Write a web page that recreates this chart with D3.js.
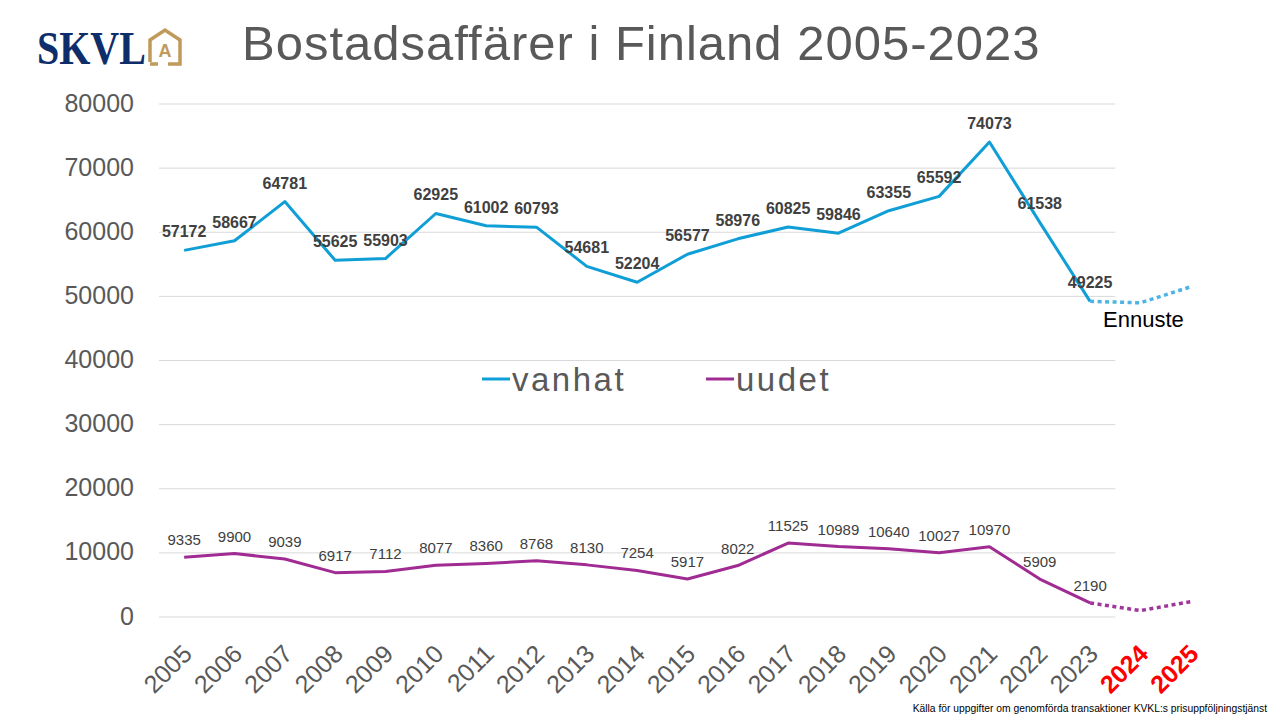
<!DOCTYPE html>
<html>
<head>
<meta charset="utf-8">
<script src="https://cdn.jsdelivr.net/npm/d3@7"></script>
<style>
  body { margin: 0; background: #fff; }
  svg { display: block; font-family: "Liberation Sans", Arial, sans-serif; }
</style>
</head>
<body>
<svg id="chart" width="1280" height="720"></svg>
<script>
const years = ["2005","2006","2007","2008","2009","2010","2011","2012","2013","2014","2015","2016","2017","2018","2019","2020","2021","2022","2023"];
const forecastYears = ["2023","2024","2025"];
const allYears = years.concat(["2024","2025"]);
const vanhat = [57172,58667,64781,55625,55903,62925,61002,60793,54681,52204,56577,58976,60825,59846,63355,65592,74073,61538,49225];
const uudet = [9335,9900,9039,6917,7112,8077,8360,8768,8130,7254,5917,8022,11525,10989,10640,10027,10970,5909,2190];
const vanhatForecast = [49225,49000,51500];
const uudetForecast = [2190,1000,2400];
const yTicks = [0,10000,20000,30000,40000,50000,60000,70000,80000];
const redYears = ["2024","2025"];

const svg = d3.select("#chart");
const x = d3.scaleBand().domain(allYears).range([159, 159 + 21 * 50.33]);
const y = d3.scaleLinear().domain([0, 80000]).range([617, 104]);
const cx = d => x(d) + x.bandwidth() / 2;
const gridEnd = x("2023") + x.bandwidth();

// gridlines
svg.append("g").selectAll("line").data(yTicks).join("line")
  .attr("x1", 159).attr("x2", gridEnd)
  .attr("y1", d => y(d)).attr("y2", d => y(d))
  .attr("stroke", "#d9d9d9").attr("stroke-width", 1);

// y labels via axis
const yAxis = svg.append("g").attr("transform", "translate(134,-1)")
  .call(d3.axisLeft(y).tickValues(yTicks).tickFormat(d3.format("d")).tickSize(0).tickPadding(0));
yAxis.select(".domain").remove();
yAxis.selectAll("text").attr("font-size", 25).attr("fill", "#595959")
  .attr("font-family", "Liberation Sans, Arial, sans-serif");

// x labels via axis
const xAxis = svg.append("g").attr("transform", "translate(0,643)")
  .call(d3.axisBottom(x).tickSize(0).tickPadding(0));
xAxis.select(".domain").remove();
xAxis.selectAll("text")
  .attr("font-size", 25)
  .attr("font-family", "Liberation Sans, Arial, sans-serif")
  .attr("fill", d => redYears.includes(d) ? "#ff0000" : "#595959")
  .attr("font-weight", d => redYears.includes(d) ? "bold" : "normal")
  .attr("text-anchor", "end")
  .attr("dy", "0.7em")
  .attr("transform", "translate(-3,0) rotate(-45)");

const line = d3.line();

// main lines
svg.append("path")
  .attr("d", line(years.map((yr, i) => [cx(yr), y(vanhat[i])])))
  .attr("fill", "none").attr("stroke", "#0F9ED5").attr("stroke-width", 3).attr("stroke-linejoin", "round");
svg.append("path")
  .attr("d", line(years.map((yr, i) => [cx(yr), y(uudet[i])])))
  .attr("fill", "none").attr("stroke", "#A02B93").attr("stroke-width", 3).attr("stroke-linejoin", "round");

// forecast lines
svg.append("path")
  .attr("d", line(forecastYears.map((yr, i) => [cx(yr), y(vanhatForecast[i])])))
  .attr("fill", "none").attr("stroke", "#4DB4E5").attr("stroke-width", 3.5).attr("stroke-dasharray", "4,3.5");
svg.append("path")
  .attr("d", line(forecastYears.map((yr, i) => [cx(yr), y(uudetForecast[i])])))
  .attr("fill", "none").attr("stroke", "#A0379A").attr("stroke-width", 3.5).attr("stroke-dasharray", "4,3.5");

// data labels
svg.append("g").selectAll("text").data(years).join("text")
  .attr("x", d => cx(d)).attr("y", (d, i) => y(vanhat[i]) - 13)
  .attr("text-anchor", "middle").attr("font-size", 16).attr("font-weight", "bold").attr("fill", "#404040")
  .text((d, i) => vanhat[i]);
svg.append("g").selectAll("text").data(years).join("text")
  .attr("x", d => cx(d)).attr("y", (d, i) => y(uudet[i]) - 12)
  .attr("text-anchor", "middle").attr("font-size", 15).attr("fill", "#404040")
  .text((d, i) => uudet[i]);

// Ennuste
svg.append("text").attr("x", 1103).attr("y", 327).attr("font-size", 22).attr("fill", "#000")
  .text("Ennuste");

// legend
const legend = [["vanhat", "#0F9ED5", 482], ["uudet", "#A02B93", 706]];
legend.forEach(([name, color, lx]) => {
  svg.append("line").attr("x1", lx).attr("x2", lx + 28).attr("y1", 379).attr("y2", 379)
    .attr("stroke", color).attr("stroke-width", 3);
  svg.append("text").attr("x", lx + 30).attr("y", 391).attr("font-size", 33)
    .attr("letter-spacing", 2.5).attr("fill", "#595959")
    .text(name);
});

// title
svg.append("text").attr("x", 242).attr("y", 60).attr("font-size", 49).attr("letter-spacing", 1)
  .attr("fill", "#595959")
  .text("Bostadsaffärer i Finland 2005-2023");

// logo
svg.append("text").attr("x", 37).attr("y", 64).attr("font-size", 40).attr("font-weight", "bold")
  .attr("font-family", "Liberation Serif, Times New Roman, serif").attr("fill", "#0E2D6B")
  .attr("transform", "translate(37,64) scale(1,1.15) translate(-37,-64)")
  .text("SKVL");
svg.append("path")
  .attr("d", "M150,62 L150,40 L165,30 L180,40 L180,64 L168,64")
  .attr("fill", "none").attr("stroke", "#C09A5B").attr("stroke-width", 3.5);
svg.append("path")
  .attr("d", "M150,64 L158,64")
  .attr("fill", "none").attr("stroke", "#C09A5B").attr("stroke-width", 3.5);
svg.append("text").attr("x", 165).attr("y", 57).attr("text-anchor", "middle").attr("font-size", 18)
  .attr("font-weight", "bold").attr("fill", "#C09A5B").text("A");

// footnote
svg.append("text").attr("x", 1267).attr("y", 712).attr("text-anchor", "end").attr("font-size", 10.3)
  .attr("fill", "#000").text("Källa för uppgifter om genomförda transaktioner KVKL:s prisuppföljningstjänst");
</script>
</body>
</html>
